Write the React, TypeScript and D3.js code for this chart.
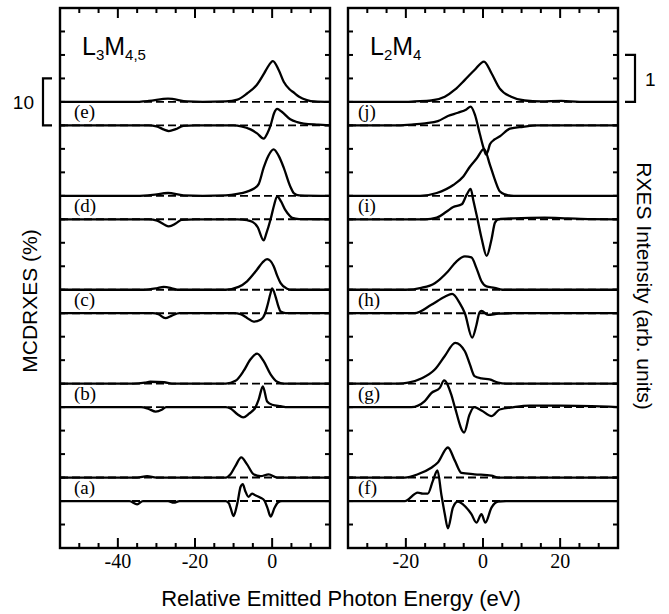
import React from 'react';
import * as d3 from 'd3';

// [energy (eV), value] — RXES in arb. units, MCD in %
const rxesE = [[-55,0],[-36,0],[-32,0.02],[-27,0.07],[-22,0.01],[-18,0],[-12,0.01],[-9,0.05],[-6.5,0.18],[-4,0.36],[-2,0.62],[-1.3,0.72],[0.2,0.87],[1.7,0.68],[3,0.43],[4.5,0.27],[5.6,0.2],[7,0.11],[9,0.04],[11,0.01],[15,0]];
const mcdE = [[-55,0],[-32,0],[-30,-0.2],[-28,-0.9],[-26.8,-1.2],[-25,-0.8],[-23,-0.1],[-20,0],[-10,0],[-8,-0.2],[-5.6,-0.85],[-3.9,-1.7],[-2.2,-2.8],[-1.2,-1.6],[-0.4,0],[0.5,2.6],[1.3,3.5],[2.5,2.9],[4.7,1.3],[6.5,0.7],[8.2,0.4],[12,0.15],[15,0]];
const rxesD = [[-55,0],[-35,0],[-31,0.02],[-27,0.06],[-23,0.01],[-18,0],[-12,0.01],[-9,0.04],[-6.5,0.09],[-4.8,0.15],[-3.5,0.25],[-2.2,0.6],[-1,0.85],[0.4,0.99],[1.7,0.85],[3,0.6],[4.7,0.2],[5.6,0.06],[7,0.01],[15,0]];
const mcdD = [[-55,0],[-32,0],[-29.8,-0.3],[-28,-1.1],[-26.8,-1.5],[-25,-0.9],[-23.5,-0.1],[-20,0],[-9,0],[-6.5,-0.2],[-5,-0.6],[-3.8,-1.6],[-2.2,-4.5],[-1.5,-3],[-0.4,0],[0.5,3],[1.3,4.9],[2.3,3.8],[3.4,2],[4.5,0.8],[5.2,0.3],[7,0.05],[15,0]];
const rxesC = [[-55,0],[-33.3,0],[-30,0.03],[-28.1,0.06],[-26,0.03],[-24.6,0],[-12,0],[-8.7,0.06],[-6.5,0.18],[-3.9,0.43],[-2.5,0.58],[-1.3,0.65],[0.4,0.5],[1.3,0.3],[2.2,0.14],[3.9,0.02],[5,0],[15,0]];
const mcdC = [[-55,0],[-31,0],[-29.5,-0.2],[-27.7,-1.05],[-26,-0.5],[-24,0],[-10,0],[-8.2,-0.2],[-6.5,-1.0],[-4.8,-1.8],[-3,-1.4],[-1.8,0],[-1.3,1.4],[-0.4,4.3],[0,5.3],[0.9,3.5],[1.6,1.5],[2.2,0.35],[3.5,0],[15,0]];
const rxesB = [[-55,0],[-36,0],[-33,0.02],[-31.6,0.04],[-28,0.03],[-26,0],[-12,0],[-9.5,0.06],[-7.4,0.27],[-5.6,0.52],[-3.9,0.64],[-2.2,0.48],[-0.4,0.2],[1.3,0.04],[3,0],[15,0]];
const mcdB = [[-55,0],[-34,0],[-32,-0.4],[-30.2,-0.94],[-28.5,-0.5],[-27.5,0],[-12,0],[-10.8,-0.3],[-9,-1.5],[-7.5,-2.2],[-6,-1.4],[-4.3,0],[-3.5,1.6],[-2.4,4.4],[-1.3,1.2],[0,0.5],[2.2,0.2],[4,0],[15,0]];
const rxesA = [[-55,0],[-35,0],[-32.4,0.03],[-30,0],[-12,0],[-10.8,0.07],[-9.5,0.25],[-8,0.43],[-6.5,0.28],[-4.8,0.07],[-3,0.03],[-0.9,0.07],[1.3,0],[15,0]];
const mcdA = [[-55,0],[-37,0],[-35,-0.7],[-33.5,0],[-27,0],[-25.5,-0.35],[-24,0],[-12,0],[-11.2,-0.5],[-10.8,-1.4],[-10,-3.2],[-9.3,-1.5],[-8.9,0],[-8.2,3.0],[-7.6,3.6],[-7,2.2],[-6.1,0.9],[-5.2,1.6],[-4.5,1.3],[-3,0.7],[-2,0.1],[-1.2,-1.5],[-0.4,-3.3],[0.6,-1.5],[1.5,-0.3],[2.5,0],[15,0]];

const rxesJ = [[-35,0],[-20,0],[-17.7,0.01],[-13.4,0.03],[-9.9,0.11],[-7.3,0.26],[-4.7,0.47],[-2.2,0.68],[0.26,0.86],[2.2,0.61],[4.3,0.29],[7.3,0.11],[10.8,0.03],[15,0.01],[20.3,0.02],[25,0],[35,0]];
const mcdJ = [[-35,0],[-22,0],[-18,0.2],[-15,0.45],[-11.7,0.9],[-9.1,2],[-6.5,2.7],[-4.3,3.4],[-3.2,4],[-2.1,2.3],[-0.8,-1.9],[0.26,-5.1],[0.8,-6.2],[1.3,-5.4],[1.8,-4],[3,-3],[4.4,-2.3],[7,-0.7],[10.4,-0.3],[14,0],[35,0]];
const rxesI = [[-35,0],[-16.3,0],[-12,0.06],[-7.7,0.23],[-5.1,0.41],[-3.4,0.62],[-1.6,0.8],[0.26,1.0],[1.8,0.66],[3.1,0.34],[4.4,0.09],[5.7,0.03],[8,0],[35,0]];
const mcdI = [[-35,0],[-15,0],[-12,0.35],[-9.5,1.6],[-7.7,2.6],[-5.5,3.2],[-4.2,5.3],[-3.2,6.5],[-2.5,4],[-1.6,0.7],[-0.3,-4.3],[0.95,-7.8],[2.2,-4.3],[3.1,-0.7],[4,0],[8,0.2],[16,0.35],[22,0.2],[28,0.05],[35,0]];
const rxesH = [[-35,0],[-20,0],[-16,0.04],[-12.5,0.14],[-9.1,0.39],[-6.9,0.6],[-4.7,0.71],[-3,0.69],[-1.7,0.46],[-0.4,0.18],[0.9,0.07],[3,0.04],[5,0],[35,0]];
const mcdH = [[-35,0],[-17.7,0],[-13.4,1.8],[-9.9,3.5],[-8,4.1],[-6,2.1],[-4.7,0],[-2.8,-5.2],[-1.7,-2.5],[-0.9,0.2],[-0.4,0.5],[1.3,-0.35],[4,-0.1],[8,0],[35,0]];
const rxesG = [[-35,0],[-22,0],[-19.4,0.02],[-16,0.11],[-12.5,0.3],[-9.9,0.59],[-7.2,0.87],[-4.7,0.69],[-3.4,0.41],[-2.2,0.16],[-0.4,0.11],[1.7,0.09],[3.9,0.02],[6,0],[35,0]];
const mcdG = [[-35,0],[-18.6,0],[-15.1,1.3],[-13.4,3],[-11.2,4.1],[-10.1,5.7],[-8.2,2.6],[-7.3,0],[-4.9,-5.4],[-3.5,-1.6],[-2.3,0],[-0.4,-0.7],[2.2,-1.9],[4.3,-0.5],[8,0],[12,0.3],[20,0.3],[35,0]];
const rxesF = [[-35,0],[-20.3,0],[-16.9,0.07],[-13.4,0.21],[-11.7,0.32],[-9.1,0.64],[-7.3,0.36],[-5.6,0.1],[-2.2,0.07],[2.2,0.04],[4,0],[35,0]];
const mcdF = [[-35,0],[-20.3,0],[-16.9,1.8],[-15.6,1.6],[-14.3,1.6],[-13,4.3],[-11.8,6.5],[-10.8,1.4],[-9.9,-2.8],[-9.1,-5.8],[-7.8,-1.4],[-6.5,-0.1],[-5.2,-0.7],[-3,-2.8],[-1.7,-4.6],[-0.4,-2.8],[0.6,-4.6],[2.2,-1.4],[3.9,-0.1],[6,0],[35,0]];

const leftLabels = ['(e)', '(d)', '(c)', '(b)', '(a)'];
const rightLabels = ['(j)', '(i)', '(h)', '(g)', '(f)'];
const leftTickLabels = [-40, -20, 0];
const rightTickLabels = [-20, 0, 20];

const SERIF = 'Liberation Serif, Times New Roman, serif';
const SANS = 'Liberation Sans, Arial, Helvetica, sans-serif';

// vertical axis in RXES units (1 unit = 10 % MCD)
const y = d3.scaleLinear().domain([0, 11.5]).range([548, 8]);
const rxesBase = [9.5, 7.5, 5.5, 3.5, 1.5];
const mcdBase = [9, 7, 5, 3, 1];

function Panel({ domain, left, rxes, mcd, labels, labelDx, tickLabels, title, sub1, sub2 }: any) {
  const x = d3.scaleLinear().domain(domain).range([left, left + 270]);
  const [x0, x1] = x.range();
  const minor = d3.range(Math.ceil(domain[0] / 5) * 5, domain[1] + 0.01, 5).filter((v: number) => v > domain[0] && v < domain[1]);
  const yTicks = d3.range(1, 23).map((i) => i * 0.5);
  const mk = (base: number, scale: number) =>
    d3.line<number[]>().x((d) => x(d[0])).y((d) => y(base + d[1] * scale)).curve(d3.curveMonotoneX);
  return (
    <g>
      {rxesBase.map((b, i) => (
        <g key={i}>
          <line x1={x0} x2={x1} y1={y(b)} y2={y(b)} stroke="#000" strokeWidth={1.9} strokeDasharray="8,4" />
          <line x1={x0} x2={x1} y1={y(mcdBase[i])} y2={y(mcdBase[i])} stroke="#000" strokeWidth={1.9} strokeDasharray="8,4" />
          <path d={mk(b, 1)(rxes[i]) || ''} fill="none" stroke="#000" strokeWidth={2.3} strokeLinejoin="round" />
          <path d={mk(mcdBase[i], 0.1)(mcd[i]) || ''} fill="none" stroke="#000" strokeWidth={2.3} strokeLinejoin="round" />
          <text x={x0 + labelDx} y={y(mcdBase[i]) - 7} fontFamily={SERIF} fontSize={19}>{labels[i]}</text>
        </g>
      ))}
      {minor.map((v: number) => {
        const len = tickLabels.includes(v) ? 10 : 5;
        return (
          <g key={v}>
            <line x1={x(v)} x2={x(v)} y1={548} y2={548 - len} stroke="#000" strokeWidth={2} />
            <line x1={x(v)} x2={x(v)} y1={8} y2={8 + len} stroke="#000" strokeWidth={2} />
          </g>
        );
      })}
      {yTicks.map((t) => (
        <g key={t}>
          <line x1={x0} x2={x0 + 5} y1={y(t)} y2={y(t)} stroke="#000" strokeWidth={2} />
          <line x1={x1} x2={x1 - 5} y1={y(t)} y2={y(t)} stroke="#000" strokeWidth={2} />
        </g>
      ))}
      {tickLabels.map((v: number) => (
        <text key={v} x={x(v)} y={568} textAnchor="middle" fontFamily={SERIF} fontSize={20}>{v}</text>
      ))}
      <rect x={x0} y={8} width={x1 - x0} height={540} fill="none" stroke="#000" strokeWidth={2.4} />
      <text x={x0 + 22} y={55} fontFamily={SANS} fontSize={25}>
        {title}
        <tspan fontSize={15} dy={5}>{sub1}</tspan>
        <tspan dy={-5}>M</tspan>
        <tspan fontSize={15} dy={5}>{sub2}</tspan>
      </text>
    </g>
  );
}

export default function App() {
  return (
    <svg width={669} height={614} style={{ position: 'absolute', left: 0, top: 0, background: '#fff' }}>
      <Panel domain={[-55, 15]} left={60} rxes={[rxesE, rxesD, rxesC, rxesB, rxesA]} mcd={[mcdE, mcdD, mcdC, mcdB, mcdA]}
        labels={leftLabels} labelDx={14} tickLabels={leftTickLabels} title="L" sub1="3" sub2="4,5" />
      <Panel domain={[-35, 35]} left={348} rxes={[rxesJ, rxesI, rxesH, rxesG, rxesF]} mcd={[mcdJ, mcdI, mcdH, mcdG, mcdF]}
        labels={rightLabels} labelDx={10} tickLabels={rightTickLabels} title="L" sub1="2" sub2="4" />
      {/* scale bars */}
      <path d={`M52,${y(10)}H43V${y(9)}H52`} fill="none" stroke="#000" strokeWidth={2.2} />
      <text x={34} y={y(9.5) + 7} textAnchor="end" fontFamily={SANS} fontSize={19}>10</text>
      <path d={`M625,${y(10.5)}H635V${y(9.5)}H625`} fill="none" stroke="#000" strokeWidth={2.2} />
      <text x={645} y={y(10) + 8} fontFamily={SANS} fontSize={19}>1</text>
      <text transform="translate(37,301) rotate(-90)" textAnchor="middle" fontFamily={SANS} fontSize={21}>MCDRXES (%)</text>
      <text transform="translate(637,286) rotate(90)" textAnchor="middle" fontFamily={SANS} fontSize={21}>RXES Intensity (arb. units)</text>
      <text x={341} y={606} textAnchor="middle" fontFamily={SANS} fontSize={22}>Relative Emitted Photon Energy (eV)</text>
    </svg>
  );
}
